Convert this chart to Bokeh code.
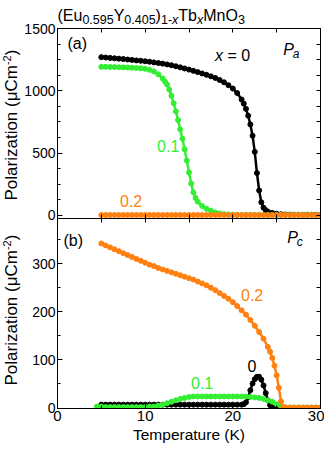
import math
from bokeh.plotting import figure
from bokeh.models import Range1d, LinearAxis, FixedTicker, Label
from bokeh.layouts import column, row
from bokeh.embed import file_html
from bokeh.resources import INLINE

FONT = "Liberation Sans"
BLACK = "#000000"
GREEN = "#33ee33"
ORANGE = "#ff8010"

# ---------------- data : panel (a)  P_a ----------------
pa_T_x0 = [5.0, 5.5, 6.0, 6.5, 7.0, 7.5, 8.0, 8.5, 9.0, 9.5, 10.0, 10.5, 11.0, 11.5, 12.0, 12.5,
           13.0, 13.5, 14.0, 14.5, 15.0, 15.5, 16.0, 16.5, 17.0, 17.5, 18.0, 18.5, 19.0, 19.5, 20.0, 20.5,
           21.0, 21.25, 21.5, 21.75, 22.0, 22.25, 22.5, 22.75, 23.0, 23.25, 23.5, 23.75, 24.0,
           24.5, 25.0, 25.5, 26.0, 26.5, 27.0, 27.5, 28.0, 28.5, 29.0, 29.5, 30.0]
pa_x0 = [1270, 1267, 1264, 1261, 1258, 1255, 1251, 1248, 1244, 1241, 1237, 1233, 1228, 1223, 1218, 1212,
         1205, 1197, 1188, 1179, 1170, 1160, 1150, 1139, 1128, 1116, 1103, 1087, 1068, 1045, 1018, 982,
         930, 897, 855, 800, 730, 640, 510, 340, 200, 105, 62, 42, 30,
         20, 13, 9, 7, 6, 5, 5, 5, 5, 5, 5, 5]

pa_T_x01 = [5.0, 5.5, 6.0, 6.5, 7.0, 7.5, 8.0, 8.5, 9.0, 9.5, 10.0, 10.5, 11.0, 11.5, 12.0,
            12.25, 12.5, 12.75, 13.0, 13.25, 13.5, 13.75, 14.0, 14.25, 14.5, 14.75, 15.0, 15.25, 15.5, 15.75, 16.0,
            16.5, 17.0, 17.5, 18.0, 18.5, 19.0, 19.5, 20.0, 20.5, 21.0, 21.5, 22.0, 22.5, 23.0, 23.5, 24.0,
            24.5, 25.0, 25.5, 26.0, 26.5, 27.0, 27.5, 28.0, 28.5, 29.0, 29.5, 30.0]
pa_x01 = [1192, 1192, 1191, 1190, 1189, 1188, 1187, 1185, 1183, 1180, 1176, 1168, 1155, 1132, 1098,
          1075, 1050, 1010, 960, 900, 835, 765, 690, 615, 530, 440, 345, 255, 185, 140, 110,
          75, 53, 37, 24, 15, 10, 7, 5, 4, 4, 4, 4, 4, 4, 4, 4,
          4, 4, 4, 4, 4, 4, 4, 4, 4, 4, 4, 4]

pa_T_x02 = [5.0, 5.5, 6.0, 6.5, 7.0, 7.5, 8.0, 8.5, 9.0, 9.5, 10.0, 10.5, 11.0, 11.5, 12.0, 12.5,
            13.0, 13.5, 14.0, 14.5, 15.0, 15.5, 16.0, 16.5, 17.0, 17.5, 18.0, 18.5, 19.0, 19.5, 20.0, 20.5,
            21.0, 21.5, 22.0, 22.5, 23.0, 23.5, 24.0, 24.5, 25.0, 25.5, 26.0, 26.5, 27.0, 27.5, 28.0, 28.5,
            29.0, 29.5, 30.0]
pa_x02 = [3, 3, 3, 3, 3, 3, 3, 3, 3, 3, 3, 3, 3, 3, 3, 3,
          3, 3, 3, 3, 3, 3, 3, 3, 3, 3, 3, 3, 3, 3, 3, 3,
          3, 3, 3, 3, 3, 3, 3, 3, 3, 3, 3, 3, 3, 3, 3, 3,
          3, 3, 3]

# ---------------- data : panel (b)  P_c ----------------
pc_T_x0 = [5.0, 5.5, 6.0, 6.5, 7.0, 7.5, 8.0, 8.5, 9.0, 9.5, 10.0, 10.5, 11.0, 11.5, 12.0, 12.5,
           13.0, 13.5, 14.0, 14.5, 15.0, 15.5, 16.0, 16.5, 17.0, 17.5, 18.0, 18.5, 19.0, 19.5, 20.0, 20.5, 21.0,
           21.25, 21.5, 21.75, 22.0, 22.25, 22.5, 22.75, 23.0, 23.25, 23.5, 23.75, 24.0, 24.25, 24.5,
           25.0, 25.5, 26.0, 26.5, 27.0, 27.5, 28.0, 28.5, 29.0, 29.5, 30.0]
pc_x0 = [7, 7, 7, 7, 7, 7, 7, 7, 7, 7, 7, 7, 7, 7, 7, 7,
         7, 7, 7, 7, 7, 7, 7, 7, 7, 7, 7, 7, 7, 7, 7, 7, 7,
         8, 12, 22, 37, 51, 60, 65, 65, 59, 47, 31, 16, 6, 1,
         0, 0, 0, 0, 0, 0, 0, 0, 0, 0, 0]

pc_T_x01 = [4.5, 5.0, 5.5, 6.0, 6.5, 7.0, 7.5, 8.0, 8.5, 9.0, 9.5, 10.0, 10.5, 11.0, 11.5, 12.0, 12.5,
            13.0, 13.5, 14.0, 14.5, 15.0, 15.5, 16.0, 16.5, 17.0, 17.5, 18.0, 18.5, 19.0, 19.5, 20.0, 20.5,
            21.0, 21.5, 22.0, 22.5, 23.0, 23.5, 24.0, 24.5, 25.0, 25.5, 26.0, 26.5, 27.0, 27.5, 28.0, 28.5,
            29.0, 29.5, 30.0]
pc_x01 = [3, 3, 2, 2, 2, 2, 2, 2, 2, 2, 2, 2, 3, 3, 5, 7, 10,
          13, 16, 19, 21, 23, 24, 24, 24, 24, 24, 24, 24, 24, 24, 24, 24,
          24, 24, 23, 22, 21, 19, 16, 13, 8, 3, 1, 1, 1, 1, 1, 1,
          1, 1, 1]

pc_T_x02 = [5.0, 5.5, 6.0, 6.5, 7.0, 7.5, 8.0, 8.5, 9.0, 9.5, 10.0, 10.5, 11.0, 11.5, 12.0, 12.5,
            13.0, 13.5, 14.0, 14.5, 15.0, 15.5, 16.0, 16.5, 17.0, 17.5, 18.0, 18.5, 19.0, 19.5, 20.0, 20.5,
            21.0, 21.5, 22.0, 22.5, 23.0, 23.5, 24.0,
            24.25, 24.5, 24.75, 25.0, 25.25, 25.5, 25.75, 26.0,
            26.5, 27.0, 27.5, 28.0, 28.5, 29.0, 29.5, 30.0]
pc_x02 = [342, 338, 334, 330, 326, 322, 318, 314, 310, 306, 302, 298, 295, 291, 288, 285,
          282, 279, 276, 273, 270, 267, 263, 259, 255, 250, 245, 239, 233, 227, 220, 212,
          203, 194, 183, 171, 158, 144, 127,
          117, 104, 88, 68, 42, 14, 2, 1,
          1, 1, 1, 1, 1, 1, 1, 1]

# ---------------- axes ----------------
x_range_vals = (0, 30)
x_ticks = [0, 10, 20, 30]
x_minor = [0, 5, 10, 15, 20, 25, 30]
pa_range = (-25, 1500)
pa_ticks = [0, 500, 1000, 1500]
pa_minor = [0, 125, 250, 375, 500, 625, 750, 875, 1000, 1125, 1250, 1375, 1500]
pc_range = (-1, 394)
pc_ticks = [0, 100, 200, 300]
pc_minor = [0, 50, 100, 150, 200, 250, 300, 350]

# Arial / Liberation Sans advance widths (per 1000 em)
W = {'(': 333, ')': 333, 'E': 667, 'u': 556, 'Y': 667, 'T': 611, 'b': 556, 'M': 833, 'n': 556,
     'O': 778, '.': 278, '-': 333, 'x': 500, 'P': 667, 'o': 556, 'l': 222, 'a': 556, 'r': 333,
     'i': 222, 'z': 500, 't': 278, ' ': 278, 'μ': 576, 'C': 722, 'm': 833}
for d in "0123456789":
    W[d] = 556


def tw(s, size):
    return sum(W.get(c, 556) for c in s) * size / 1000.0


def labeled_axis(ticks, minor, size):
    ax = LinearAxis(ticker=FixedTicker(ticks=ticks, minor_ticks=minor))
    ax.axis_line_color = BLACK
    ax.major_tick_in = 5
    ax.major_tick_out = 0
    ax.minor_tick_in = 3
    ax.minor_tick_out = 0
    ax.major_tick_line_color = BLACK
    ax.minor_tick_line_color = BLACK
    ax.major_label_text_font = FONT
    ax.major_label_text_font_size = size
    ax.major_label_text_color = BLACK
    ax.major_label_standoff = 2
    return ax


def plain_axis(ticks, minor):
    # ticks only, no labels: every tick drawn as a short inward tick
    ax = LinearAxis(ticker=FixedTicker(ticks=[], minor_ticks=sorted(set(ticks + minor))))
    ax.axis_line_color = BLACK
    ax.major_tick_in = 0
    ax.major_tick_out = 0
    ax.minor_tick_in = 4
    ax.minor_tick_out = 0
    ax.minor_tick_line_color = BLACK
    ax.major_label_standoff = 0
    return ax


def make_fig(yr, height, top, bottom, yt, ym, xlabels):
    p = figure(width=303, height=height, x_range=Range1d(*x_range_vals), y_range=Range1d(*yr),
               output_backend="svg", toolbar_location=None,
               x_axis_location=None, y_axis_location=None,
               min_border_left=36, min_border_right=4, min_border_top=top, min_border_bottom=bottom)
    p.grid.grid_line_color = None
    p.outline_line_color = BLACK
    p.background_fill_color = None
    p.border_fill_color = None
    p.add_layout(labeled_axis(yt, ym, "14px"), "left")
    p.add_layout(plain_axis(yt, ym), "right")
    p.add_layout(plain_axis(x_ticks, x_minor), "above")
    if xlabels:
        ax = labeled_axis(x_ticks, x_minor, "15px")
        ax.axis_label = "Temperature (K)"
        ax.axis_label_text_font = FONT
        ax.axis_label_text_font_size = "15.5px"
        ax.axis_label_text_font_style = "normal"
        ax.axis_label_text_color = BLACK
        ax.axis_label_standoff = 2
        p.add_layout(ax, "below")
    else:
        p.add_layout(plain_axis(x_ticks, x_minor), "below")
    return p


def bare_fig(w, h, xr, yr):
    p = figure(width=w, height=h, x_range=Range1d(*xr), y_range=Range1d(*yr),
               output_backend="svg", toolbar_location=None,
               x_axis_location=None, y_axis_location=None,
               min_border_left=0, min_border_right=0, min_border_top=0, min_border_bottom=0)
    p.grid.grid_line_color = None
    p.outline_line_color = None
    p.background_fill_color = None
    p.border_fill_color = None
    return p


def lab(p, text, x, y, size, color=BLACK, style="normal", align="center", baseline="middle",
        dx=0, dy=0, angle=0.0):
    p.add_layout(Label(x=x, y=y, text=text, x_offset=dx, y_offset=dy, angle=angle,
                       text_font=FONT, text_font_size=f"{size}px", text_font_style=style,
                       text_color=color, text_align=align, text_baseline=baseline))


def series(p, xs, ys, color):
    p.line(xs, ys, line_width=2.5, color=color)
    p.scatter(xs, ys, size=5, color=color, marker="circle")


# ---------------- title strip (data units = page pixels) ----------------
pt = bare_fig(300, 28, (0, 300), (28, 0))
pieces = [("(Eu", 16, "normal", 0), ("0.595", 12.5, "normal", -4.7), ("Y", 16, "normal", 0),
          ("0.405", 12.5, "normal", -4.7), (")", 16, "normal", 0), ("1-", 12.5, "normal", -4.7),
          ("x", 12.5, "italic", -4.7), ("Tb", 16, "normal", 0), ("x", 12.5, "italic", -4.7),
          ("MnO", 16, "normal", 0), ("3", 12.5, "normal", -4.7)]
off = 57.0
for s, sz, st, dy in pieces:
    lab(pt, s, off, 14.5, sz, style=st, align="left", baseline="middle", dy=dy)
    off += tw(s, sz)

# ---------------- y-label strip (data units = page pixels) ----------------
py = bare_fig(21, 443, (0, 21), (451, 8))


def ylabel(p, y0):
    main, sup = 17, 11
    s1 = "Polarization (μCm"
    lab(p, s1, 11, y0, main, align="left", baseline="middle", angle=math.pi / 2)
    o = tw(s1, main)
    lab(p, "-2", 11, y0, sup, align="left", baseline="middle", dx=-4.4, dy=o, angle=math.pi / 2)
    o += tw("-2", sup)
    lab(p, ")", 11, y0, main, align="left", baseline="middle", dy=o, angle=math.pi / 2)


ylabel(py, 200)
ylabel(py, 385)

# ---------------- panel (a) : canvas 8..228, frame 28..218 ----------------
p1 = make_fig(pa_range, 220, 20, 10, pa_ticks, pa_minor, False)
series(p1, pa_T_x0, pa_x0, BLACK)
series(p1, pa_T_x01, pa_x01, GREEN)
series(p1, pa_T_x02, pa_x02, ORANGE)

lab(p1, "(a)", 2.25, 1379, 16)
lab(p1, "x", 17.97, 1283, 16, style="italic", align="left")
lab(p1, "= 0", 17.97, 1283, 16, align="left", dx=12.4)
lab(p1, "P", 25.74, 1328, 16, style="italic", align="left")
lab(p1, "a", 25.74, 1328, 12, style="italic", align="left", dx=9.5, dy=-3.9)
lab(p1, "0.1", 12.63, 553, 16, color=GREEN)
lab(p1, "0.2", 8.4, 119, 16, color=ORANGE)

# ---------------- panel (b) : canvas 208..451, frame 218..408 ----------------
p2 = make_fig(pc_range, 243, 10, 43, pc_ticks, pc_minor, True)
p2.margin = (-20, 0, 0, 0)
series(p2, pc_T_x0, pc_x0, BLACK)
series(p2, pc_T_x01, pc_x01, GREEN)
series(p2, pc_T_x02, pc_x02, ORANGE)

lab(p2, "(b)", 1.79, 348, 16)
lab(p2, "P", 26.2, 354, 16, style="italic", align="left")
lab(p2, "c", 26.2, 354, 12, style="italic", align="left", dx=9.5, dy=-3.9)
lab(p2, "0.2", 22.2, 234, 16, color=ORANGE)
lab(p2, "0", 22.17, 88, 16)
lab(p2, "0.1", 16.5, 51, 16, color=GREEN)

body = row(py, column(p1, p2, spacing=0), spacing=0)
body.margin = (-20, 0, 0, 0)
layout = column(pt, body, spacing=0)
open("out.html", "w").write(file_html(layout, INLINE))
